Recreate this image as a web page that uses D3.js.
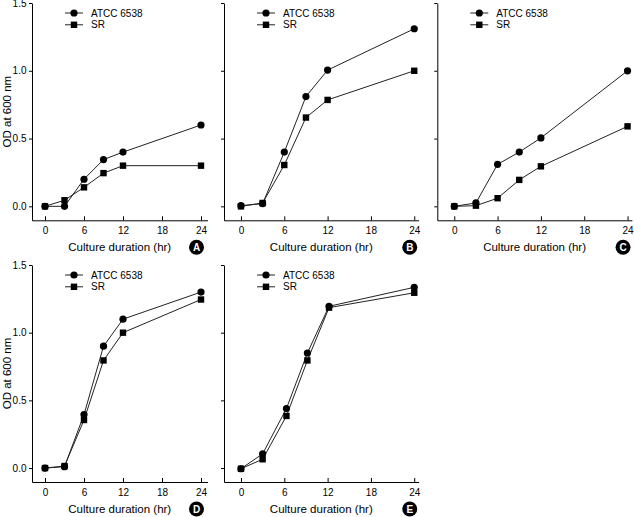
<!DOCTYPE html>
<html>
<head>
<meta charset="utf-8">
<script src="https://cdn.jsdelivr.net/npm/d3@7"></script>
<style>
  html, body { margin: 0; padding: 0; background: #fff; }
  svg { display: block; font-family: "Liberation Sans", Arial, sans-serif; }
</style>
</head>
<body>
<svg id="chart" width="634" height="517"></svg>
<script>
// ---- data ----
const hours = [0, 3, 6, 9, 12, 24];
const hoursE = [0, 3, 6.3, 9.2, 12.2, 24];
const xTicks = [0, 6, 12, 18, 24];
const yTicks = [0.0, 0.5, 1.0, 1.5];
const seriesNames = ["ATCC 6538", "SR"];
const panelLabels = ["A", "B", "C", "D", "E"];

const atccA = [0, 0.0, 0.20, 0.345, 0.40, 0.60];
const srA   = [0, 0.045, 0.14, 0.245, 0.30, 0.30];
const atccB = [0.005, 0.02, 0.40, 0.81, 1.005, 1.31];
const srB   = [0, 0.025, 0.305, 0.655, 0.785, 1.0];
const atccC = [0, 0.025, 0.31, 0.40, 0.505, 1.0];
const srC   = [0, 0.005, 0.06, 0.195, 0.295, 0.59];
const atccD = [0, 0.01, 0.395, 0.90, 1.10, 1.30];
const srD   = [0, 0.015, 0.355, 0.795, 1.0, 1.245];
const atccE = [-0.005, 0.105, 0.44, 0.85, 1.195, 1.335];
const srE   = [-0.005, 0.065, 0.385, 0.795, 1.185, 1.295];

// ---- layout ----
const panels = [
  { label: "A", hrs: hours,  atcc: atccA, sr: srA, left: 32,    xdom: [-2, 25],     xpx: 6.5,  top: 3,   bottom: 220.3, yLabels: true },
  { label: "B", hrs: hours,  atcc: atccB, sr: srB, left: 224,   xdom: [-2.35, 24.6], xpx: 7.22, top: 3,   bottom: 220.3, yLabels: false },
  { label: "C", hrs: hours,  atcc: atccC, sr: srC, left: 437.3, xdom: [-2.35, 24.6], xpx: 7.22, top: 3,   bottom: 220.3, yLabels: false },
  { label: "D", hrs: hours,  atcc: atccD, sr: srD, left: 32,    xdom: [-2, 25],     xpx: 6.5,  top: 265, bottom: 482,   yLabels: true },
  { label: "E", hrs: hoursE, atcc: atccE, sr: srE, left: 224,   xdom: [-2.35, 24.6], xpx: 7.22, top: 265, bottom: 482,   yLabels: false }
];

const svg = d3.select("#chart");
const ink = "#000";

panels.forEach(p => {
  const x = d3.scaleLinear().domain(p.xdom)
    .range([p.left, p.left + (p.xdom[1] - p.xdom[0]) * p.xpx]);
  const y = d3.scaleLinear().domain([-0.103, 1.5]).range([p.bottom, p.top]);
  const g = svg.append("g");

  // x axis (inward ticks)
  const xa = g.append("g").attr("transform", `translate(0,${p.bottom})`)
    .call(d3.axisBottom(x).tickValues(xTicks).tickFormat(d3.format("d"))
      .tickSizeInner(-4).tickSizeOuter(0).tickPadding(6));
  xa.selectAll("text").attr("font-size", 10).attr("font-family", null).attr("fill", ink)
    .attr("y", 6).attr("dy", "0.75em");

  // y axis (outward ticks)
  const ya = g.append("g").attr("transform", `translate(${p.left},0)`)
    .call(d3.axisLeft(y).tickValues(yTicks).tickFormat(p.yLabels ? d3.format(".1f") : () => "")
      .tickSizeInner(3).tickSizeOuter(0).tickPadding(2.5));
  ya.selectAll("text").attr("font-size", 10).attr("font-family", null).attr("fill", ink);
  g.selectAll(".domain, .tick line").attr("stroke", ink).attr("stroke-width", 1);

  // titles
  const xr = x.range();
  g.append("text").attr("x", (xr[0] + xr[1]) / 2).attr("y", p.bottom + 31)
    .attr("text-anchor", "middle").attr("font-size", 11.5).attr("fill", ink)
    .text("Culture duration (hr)");
  if (p.yLabels) {
    g.append("text")
      .attr("transform", `translate(10.5,${(p.top + p.bottom) / 2}) rotate(-90)`)
      .attr("text-anchor", "middle").attr("font-size", 11.5).attr("fill", ink)
      .text("OD at 600 nm");
  }

  // panel letter badge
  const bx = x(24) - 4.5, by = p.bottom + 27;
  g.append("circle").attr("cx", bx).attr("cy", by).attr("r", 7.5).attr("fill", ink);
  g.append("text").attr("x", bx).attr("y", by + 3.6).attr("text-anchor", "middle")
    .attr("font-size", 10).attr("font-weight", "bold").attr("fill", "#fff").text(p.label);

  // series
  const line = d3.line().x(d => x(d[0])).y(d => y(d[1]));
  const ptsA = p.hrs.map((h, i) => [h, p.atcc[i]]);
  const ptsS = p.hrs.map((h, i) => [h, p.sr[i]]);
  g.append("path").datum(ptsA).attr("d", line).attr("fill", "none").attr("stroke", "#222").attr("stroke-width", 1);
  g.append("path").datum(ptsS).attr("d", line).attr("fill", "none").attr("stroke", "#222").attr("stroke-width", 1);
  g.selectAll(null).data(ptsA).join("circle")
    .attr("cx", d => x(d[0])).attr("cy", d => y(d[1])).attr("r", 3.6).attr("fill", ink);
  g.selectAll(null).data(ptsS).join("rect")
    .attr("x", d => x(d[0]) - 3.2).attr("y", d => y(d[1]) - 3.2)
    .attr("width", 6.4).attr("height", 6.4).attr("fill", ink);

  // legend
  const lx = p.left + 42;
  seriesNames.forEach((name, i) => {
    const ly = p.top + 10 + i * 11.8;
    g.append("line").attr("x1", lx - 9).attr("x2", lx + 9).attr("y1", ly).attr("y2", ly)
      .attr("stroke", "#222").attr("stroke-width", 1);
    if (i === 0) {
      g.append("circle").attr("cx", lx).attr("cy", ly).attr("r", 3.6).attr("fill", ink);
    } else {
      g.append("rect").attr("x", lx - 3.2).attr("y", ly - 3.2).attr("width", 6.4).attr("height", 6.4).attr("fill", ink);
    }
    g.append("text").attr("x", lx + 17).attr("y", ly + 3.6).attr("font-size", 10).attr("fill", ink).text(name);
  });
});
</script>
</body>
</html>
